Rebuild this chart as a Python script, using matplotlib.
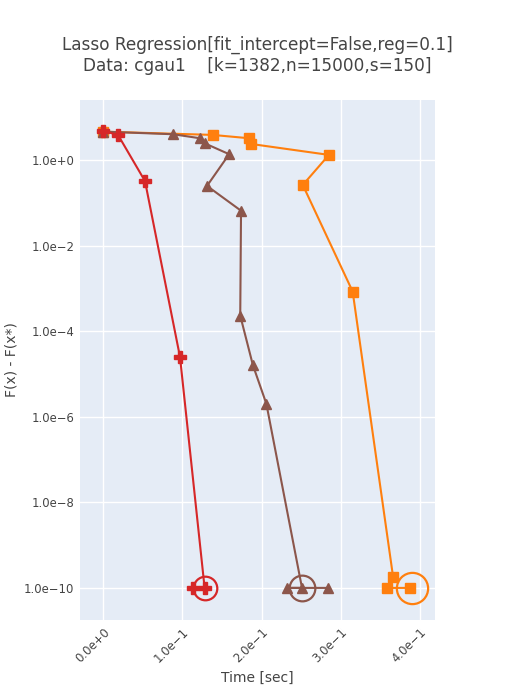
import matplotlib.pyplot as plt
from matplotlib.ticker import FixedLocator, NullLocator

# Data
red_t = [0.0, 0.0186, 0.0527, 0.0969, 0.128, 0.113]
red_f = [4.76, 3.84, 0.32, 2.5e-5, 1e-10, 1e-10]

brown_t = [0.0, 0.0884, 0.122, 0.128, 0.159, 0.131, 0.174, 0.173, 0.189, 0.206, 0.251, 0.232, 0.284]
brown_f = [4.58, 3.98, 3.21, 2.45, 1.36, 0.247, 0.065, 2.3e-4, 1.6e-5, 2.0e-6, 1e-10, 1e-10, 1e-10]

orange_t = [0.0, 0.138, 0.184, 0.186, 0.285, 0.252, 0.315, 0.366, 0.358, 0.387]
orange_f = [4.58, 3.84, 3.21, 2.37, 1.31, 0.26, 8.4e-4, 1.84e-10, 1e-10, 1e-10]

# final points (open circles)
end_t = [0.128, 0.251, 0.3895]
end_f = [1e-10, 1e-10, 1e-10]
end_size = [17, 18.5, 22.5]

x_ticks = [0.0, 0.1, 0.2, 0.3, 0.4]
x_labels = ['0.0e+0', '1.0e\u22121', '2.0e\u22121', '3.0e\u22121', '4.0e\u22121']
y_ticks = [1e0, 1e-2, 1e-4, 1e-6, 1e-8, 1e-10]
y_labels = ['1.0e+0', '1.0e\u22122', '1.0e\u22124', '1.0e\u22126', '1.0e\u22128', '1.0e\u221210']

RED = '#d62728'
BROWN = '#8c564b'
ORANGE = '#ff7f0e'
TXT = '#444444'

plt.rcParams['font.family'] = ['DejaVu Sans']

fig = plt.figure(figsize=(5.15, 7.0), dpi=100)
ax = fig.add_axes([80 / 515, 1 - 620 / 700, 355 / 515, 520 / 700])
ax.set_facecolor('#e5ecf6')
for s in ax.spines.values():
    s.set_visible(False)

ax.set_yscale('log')
ax.set_xlim(-0.0294, 0.419)
ax.set_ylim(10 ** -10.75, 10 ** 1.40)

ax.xaxis.set_major_locator(FixedLocator(x_ticks))
ax.set_xticklabels(x_labels)
ax.yaxis.set_major_locator(FixedLocator(y_ticks))
ax.set_yticklabels(y_labels)
ax.yaxis.set_minor_locator(NullLocator())
ax.tick_params(length=0, labelsize=8.4, colors=TXT, pad=4)
for lab in ax.get_xticklabels():
    lab.set_rotation(45)
    lab.set_ha('right')
    lab.set_va('top')
    lab.set_rotation_mode('anchor')

ax.grid(True, color='white', linewidth=1.0)
ax.set_axisbelow(True)

ax.plot(orange_t, orange_f, color=ORANGE, marker='s', ms=6.8, lw=1.5, zorder=3)
ax.plot(brown_t, brown_f, color=BROWN, marker='^', ms=7, lw=1.5, zorder=4)
ax.plot(red_t, red_f, color=RED, marker='P', ms=8.3, lw=1.5, zorder=5)

for t, f, sz, c in zip(end_t, end_f, end_size, [RED, BROWN, ORANGE]):
    ax.plot([t], [f], marker='o', ms=sz, mfc='none', mec=c, mew=1.6, zorder=6)

ax.set_xlabel('Time [sec]', fontsize=10, color=TXT, labelpad=4)
ax.set_ylabel('F(x) - F(x*)', fontsize=10, color=TXT, labelpad=4)

fig.text(0.5, 1 - 45 / 700, 'Lasso Regression[fit_intercept=False,reg=0.1]',
         ha='center', va='center', fontsize=12.2, color=TXT)
fig.text(0.5, 1 - 66 / 700, 'Data: cgau1    [k=1382,n=15000,s=150]',
         ha='center', va='center', fontsize=12.2, color=TXT)

fig.savefig('out.png', dpi=100, facecolor='white')
